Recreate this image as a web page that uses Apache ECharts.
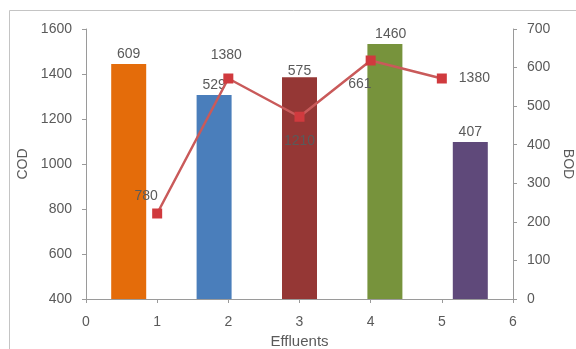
<!DOCTYPE html>
<html>
<head>
<meta charset="utf-8">
<script src="https://cdn.jsdelivr.net/npm/echarts@6/dist/echarts.min.js"></script>
<style>
  html, body { margin: 0; padding: 0; background: #ffffff; }
  #chart { width: 576px; height: 349px; }
</style>
</head>
<body>
<div id="chart"></div>
<script>
// Effluent samples: BOD as bars (right axis), COD as a line (left axis)
const effluents = [1, 2, 3, 4, 5];
const bodValues = [609, 529, 575, 661, 407];
const codValues = [780, 1380, 1210, 1460, 1380];
const barColors = ['#E46C0A', '#4A7EBB', '#953735', '#77933C', '#5F497A'];
const codTicks = { min: 400, max: 1600, step: 200 };
const bodTicks = { min: 0, max: 700, step: 100 };
const xTicks = { min: 0, max: 6, step: 1 };

// label placement tweaks for each point
const barLabelOffsets = [[0, 0], [0, 0], [0, 4], [-25, 50], [0, 0]];
const lineLabelPlacement = [
  { position: 'top', offset: [-11, 0] },
  { position: 'top', offset: [-2, -6] },
  { position: 'bottom', offset: [0, 7] },
  { position: 'top', offset: [20, -9] },
  { position: 'right', offset: [7, 0] }
];

const textColor = '#5a5a5a';
const axisColor = '#9a9a9a';
const font = 'Liberation Sans, Arial, sans-serif';
const plain = v => String(v);

const chart = echarts.init(document.getElementById('chart'), null, { renderer: 'canvas' });

const barData = bodValues.map((v, i) => ({
  value: v,
  itemStyle: { color: barColors[i] },
  label: { offset: barLabelOffsets[i] }
}));

const lineData = effluents.map((x, i) => ({
  value: [x, codValues[i]],
  label: lineLabelPlacement[i]
}));

chart.setOption({
  animation: false,
  backgroundColor: '#ffffff',
  textStyle: { fontFamily: font },
  graphic: [{
    type: 'rect',
    shape: { x: 9.5, y: 10.5, width: 700, height: 500 },
    style: { fill: 'none', stroke: '#c4c4c4', lineWidth: 1 },
    silent: true,
    z: -10
  }],
  grid: { left: 86, right: 63, top: 29, bottom: 50, containLabel: false, outerBoundsMode: 'none' },
  xAxis: [
    {
      type: 'category',
      data: effluents.map(String),
      show: false
    },
    {
      type: 'value',
      position: 'bottom',
      min: xTicks.min, max: xTicks.max, interval: xTicks.step,
      name: 'Effluents',
      nameLocation: 'middle',
      nameGap: 31,
      nameTextStyle: { color: textColor, fontSize: 15, fontFamily: font },
      axisLine: { show: true, lineStyle: { color: axisColor, width: 1 } },
      axisTick: { show: true, length: 4, lineStyle: { color: axisColor } },
      axisLabel: { color: textColor, fontSize: 14, margin: 16, fontFamily: font, formatter: plain },
      splitLine: { show: false }
    }
  ],
  yAxis: [
    {
      type: 'value',
      position: 'left',
      min: codTicks.min, max: codTicks.max, interval: codTicks.step,
      name: 'COD',
      nameLocation: 'middle',
      nameGap: 52,
      nameRotate: 90,
      nameTextStyle: { color: textColor, fontSize: 14, fontFamily: font },
      axisLine: { show: true, lineStyle: { color: axisColor, width: 1 } },
      axisTick: { show: true, length: 4, lineStyle: { color: axisColor } },
      axisLabel: { color: textColor, fontSize: 14, margin: 14, fontFamily: font, formatter: plain },
      splitLine: { show: false }
    },
    {
      type: 'value',
      position: 'right',
      min: bodTicks.min, max: bodTicks.max, interval: bodTicks.step,
      name: 'BOD',
      nameLocation: 'middle',
      nameGap: 42,
      nameRotate: -90,
      nameTextStyle: { color: textColor, fontSize: 14, fontFamily: font },
      axisLine: { show: true, lineStyle: { color: axisColor, width: 1 } },
      axisTick: { show: true, length: 4, lineStyle: { color: axisColor } },
      axisLabel: { color: textColor, fontSize: 14, margin: 14, fontFamily: font, formatter: plain },
      splitLine: { show: false }
    }
  ],
  series: [
    {
      name: 'BOD',
      type: 'bar',
      xAxisIndex: 0,
      yAxisIndex: 1,
      barWidth: 35,
      data: barData,
      label: {
        show: true,
        position: 'top',
        distance: 3,
        color: textColor,
        fontSize: 14,
        fontFamily: font
      },
      z: 2
    },
    {
      name: 'COD',
      type: 'line',
      xAxisIndex: 1,
      yAxisIndex: 0,
      data: lineData,
      symbol: 'rect',
      symbolSize: 10,
      lineStyle: { color: '#C95A5A', width: 2.5 },
      itemStyle: { color: '#D03A3E' },
      label: {
        show: true,
        distance: 5,
        color: textColor,
        fontSize: 14,
        fontFamily: font,
        formatter: p => String(p.value[1])
      },
      z: 3
    }
  ]
});
</script>
</body>
</html>
